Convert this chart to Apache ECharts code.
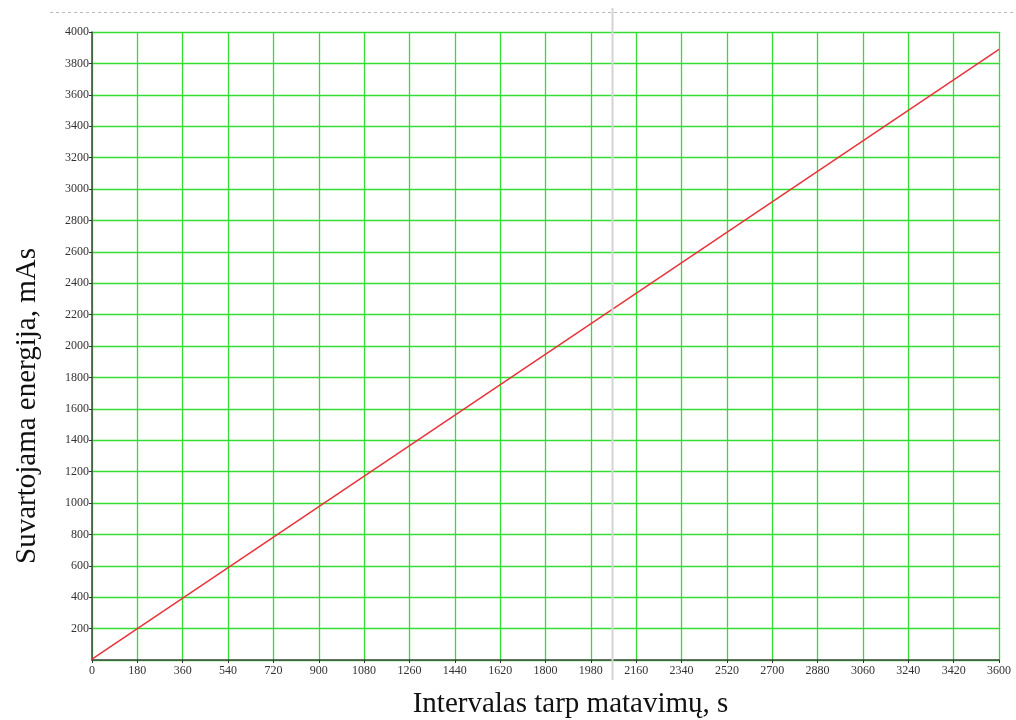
<!DOCTYPE html>
<html><head><meta charset="utf-8">
<script src="https://cdn.jsdelivr.net/npm/echarts@6/dist/echarts.min.js"></script>
<style>html,body{margin:0;padding:0;background:#fff}#c{width:1016px;height:720px}</style>
</head><body><div id="c"></div>
<script>
const xValues = [0, 3600];
const yValues = [5, 3890];
const xTitle = 'Intervalas tarp matavimų, s';
const yTitle = 'Suvartojama energija, mAs';

const chart = echarts.init(document.getElementById('c'), null, {renderer: 'canvas'});
const serif = '"Liberation Serif", "DejaVu Serif", serif';
const plain = v => String(v);
chart.setOption({
  animation: false,
  backgroundColor: '#fff',
  grid: {left: 92, right: 17, top: 32, bottom: 60, containLabel: false, outerBoundsMode: 'none'},
  xAxis: {
    type: 'value', min: 0, max: 3600, interval: 180,
    name: xTitle, nameLocation: 'middle', nameGap: 30,
    nameTextStyle: {fontFamily: serif, fontSize: 29, color: '#111', padding: [0, 0, 0, 50]},
    axisLine: {show: true, onZero: false, lineStyle: {color: '#444', width: 1.5}},
    axisTick: {show: true, length: 3, lineStyle: {color: '#333'}},
    axisLabel: {fontFamily: serif, fontSize: 12, color: '#333', margin: 5, formatter: plain},
    splitLine: {show: true, lineStyle: {color: '#33dd33', width: 1.3}}
  },
  yAxis: {
    type: 'value', min: 0, max: 4000, interval: 200,
    name: yTitle, nameLocation: 'middle', nameGap: 50,
    nameTextStyle: {fontFamily: serif, fontSize: 29, color: '#111', padding: [0, 120, 0, 0]},
    axisLine: {show: true, onZero: false, lineStyle: {color: '#444', width: 1.5}},
    axisTick: {show: true, length: 3, lineStyle: {color: '#333'}},
    axisLabel: {fontFamily: serif, fontSize: 12, color: '#333', margin: 3, showMinLabel: false, formatter: plain},
    splitLine: {show: true, lineStyle: {color: '#33dd33', width: 1.3}}
  },
  series: [{
    type: 'line',
    data: xValues.map((x, i) => [x, yValues[i]]),
    showSymbol: false,
    lineStyle: {color: '#e8333a', width: 1.5},
    z: 5
  }],
  graphic: [
    {type: 'line', shape: {x1: 50, y1: 12.5, x2: 1016, y2: 12.5}, style: {stroke: '#bbb', lineWidth: 1, lineDash: [3, 3]}, z: 10},
    {type: 'line', shape: {x1: 612.5, y1: 8, x2: 612.5, y2: 680}, style: {stroke: '#d4d4d4', lineWidth: 2}, z: 10}
  ]
});
</script></body></html>
